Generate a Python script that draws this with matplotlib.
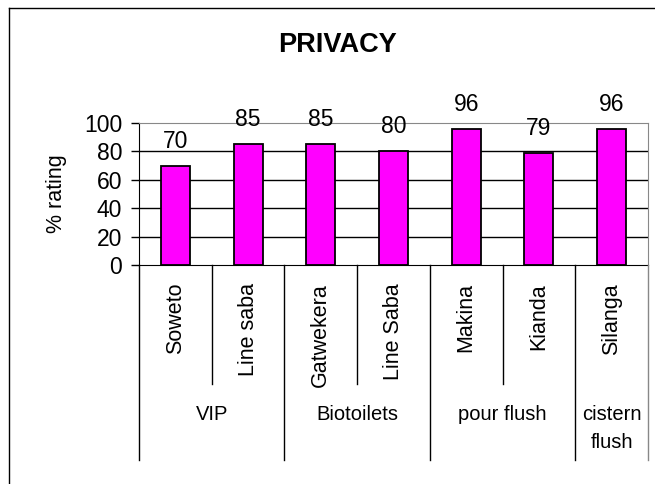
import matplotlib
matplotlib.use("Agg")
import matplotlib.pyplot as plt
from matplotlib.lines import Line2D
from matplotlib.transforms import offset_copy

sites = ["Soweto", "Line saba", "Gatwekera", "Line Saba", "Makina", "Kianda", "Silanga"]
values = [70, 85, 85, 80, 96, 79, 96]
groups = ["VIP", "Biotoilets", "pour flush", "cistern\nflush"]
group_sizes = [2, 2, 2, 1]
yticks = [0, 20, 40, 60, 80, 100]

plt.rcParams['font.family'] = ['Liberation Sans', 'DejaVu Sans']

W, H = 655, 484
fig = plt.figure(figsize=(W / 100, H / 100), dpi=100)

def fx(px):
    return px / W

def fy(py):
    return 1 - py / H

ax_l, ax_r, ax_t, ax_b = 139, 648, 123, 265
ax = fig.add_axes([fx(ax_l), fy(ax_b), fx(ax_r - ax_l), fy(ax_t) - fy(ax_b)])

n = len(sites)
x = list(range(n))
ax.bar(x, values, width=0.4, color="#FF00FF", edgecolor="black", linewidth=1.3, zorder=3)
val_tr = offset_copy(ax.transData, fig=fig, x=0, y=18, units="dots")
for xi, v in zip(x, values):
    ax.text(xi, v, str(v), ha="center", va="baseline", fontsize=16.5, transform=val_tr)

ax.set_xlim(-0.5, n - 0.5)
ax.set_ylim(0, 100)
ax.set_yticks(yticks)
ax.set_yticklabels([str(t) for t in yticks], fontsize=16.5)
ax.set_xticks([])
for t in yticks[1:-1]:
    ax.axhline(t, color="black", linewidth=1, zorder=1)
ax.spines["top"].set_color("#888888")
ax.spines["right"].set_color("#888888")
ax.spines["left"].set_color("black")
ax.spines["bottom"].set_color("black")
ax.tick_params(axis="y", length=6, width=1, pad=6)
ax.set_ylabel("% rating", fontsize=15.5, labelpad=12)

# category labels (rotated)
cat_tr = offset_copy(ax.get_xaxis_transform(), fig=fig, x=0, y=-(283 - ax_b), units="dots")
for xi, s in zip(x, sites):
    ax.text(xi, 0, s, transform=cat_tr, rotation=90,
            ha="center", va="top", fontsize=15.5)

# separators
cat_w = (ax_r - ax_l) / n
bounds_group = [0]
for g in group_sizes:
    bounds_group.append(bounds_group[-1] + g)
for b in range(n + 1):
    xp = ax_l + b * cat_w
    if b in bounds_group:
        y_end = 460
        col = "#888888" if b == n else "black"
    else:
        y_end = 384
        col = "black"
    fig.add_artist(Line2D([fx(xp), fx(xp)], [fy(ax_b), fy(y_end)], color=col, linewidth=1))

# group labels
for i, g in enumerate(groups):
    c = (bounds_group[i] + bounds_group[i + 1]) / 2
    xp = ax_l + c * cat_w
    for j, line in enumerate(g.split("\n")):
        fig.text(fx(xp), fy(414 + 29 * j), line, ha="center", va="center", fontsize=14.5)

# title
fig.text(fx(338), fy(45), "PRIVACY", ha="center", va="center", fontsize=19.5, fontweight="bold")

# outer frame
fig.add_artist(Line2D([fx(9), fx(9)], [fy(8), fy(H + 2)], color="black", linewidth=1))
fig.add_artist(Line2D([fx(9), fx(W + 2)], [fy(8), fy(8)], color="black", linewidth=1))

fig.savefig("out.png", dpi=100)
